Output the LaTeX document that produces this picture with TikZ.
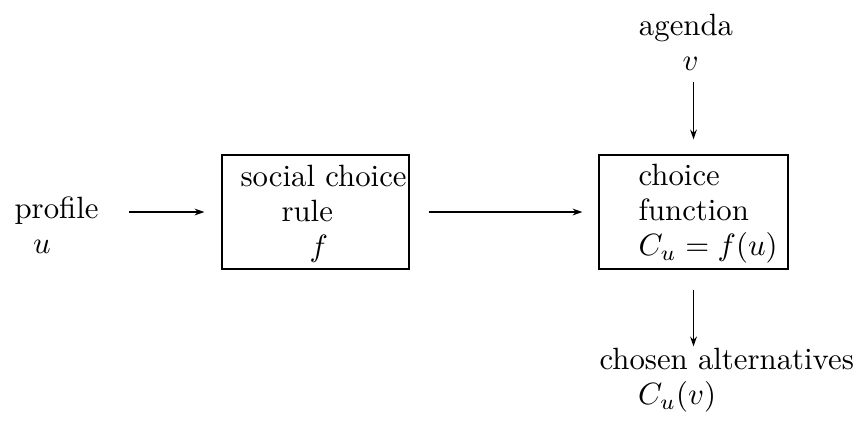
\documentclass[tikz,border=0pt]{standalone}
\usepackage{amsmath}
\usetikzlibrary{arrows.meta}
\begin{document}
\begin{tikzpicture}[x=0.325pt,y=-0.325pt,
  font={\fontsize{10}{11.4}\selectfont},
  box/.style={draw,line width=0.4pt,minimum width=60.8pt,minimum height=37pt,inner sep=0pt},
  flow/.style={-{Stealth[length=3.2pt,width=2.2pt]},line width=0.4pt},
  label/.style={inner sep=0pt,align=left}]
  \useasboundingbox (0,0) rectangle (857,422);

  % boxes
  \node[box] (rule) at (315.5,212) {};
  \node[label,anchor=west] (ruletext) at (240,214) {social choice\\\hspace{13.3pt}rule\\\hspace{22.4pt}$f$};
  \node[box,minimum width=61.4pt] (fn) at (693.5,212) {};
  \node[label,anchor=west] (fntext) at (638,214) {choice\\function\\$C_u=f(u)$};

  % inputs and output
  \node[label,anchor=west] (profile) at (14,225) {profile\\\hspace{6pt}$u$};
  \node[label,align=center] (agenda) at (686,42) {agenda\\\hspace{3pt}$v$};
  \node[label,anchor=west] (chosen) at (599,380) {chosen alternatives\\\hspace{12.5pt}$C_u(v)$};

  % arrows
  \draw[flow,shorten <=9.8pt,shorten >=5.5pt] (profile.east |- rule.west) -- (rule.west);
  \draw[flow,shorten <=6.2pt,shorten >=5.2pt] (rule.east) -- (fn.west);
  \draw[flow,shorten <=3.5pt,shorten >=4.9pt] (agenda.south -| fn.north) -- (fn.north);
  \draw[flow,shorten <=6.8pt,shorten >=0.3pt] (fn.south) -- (chosen.north -| fn.south);
\end{tikzpicture}
\end{document}
